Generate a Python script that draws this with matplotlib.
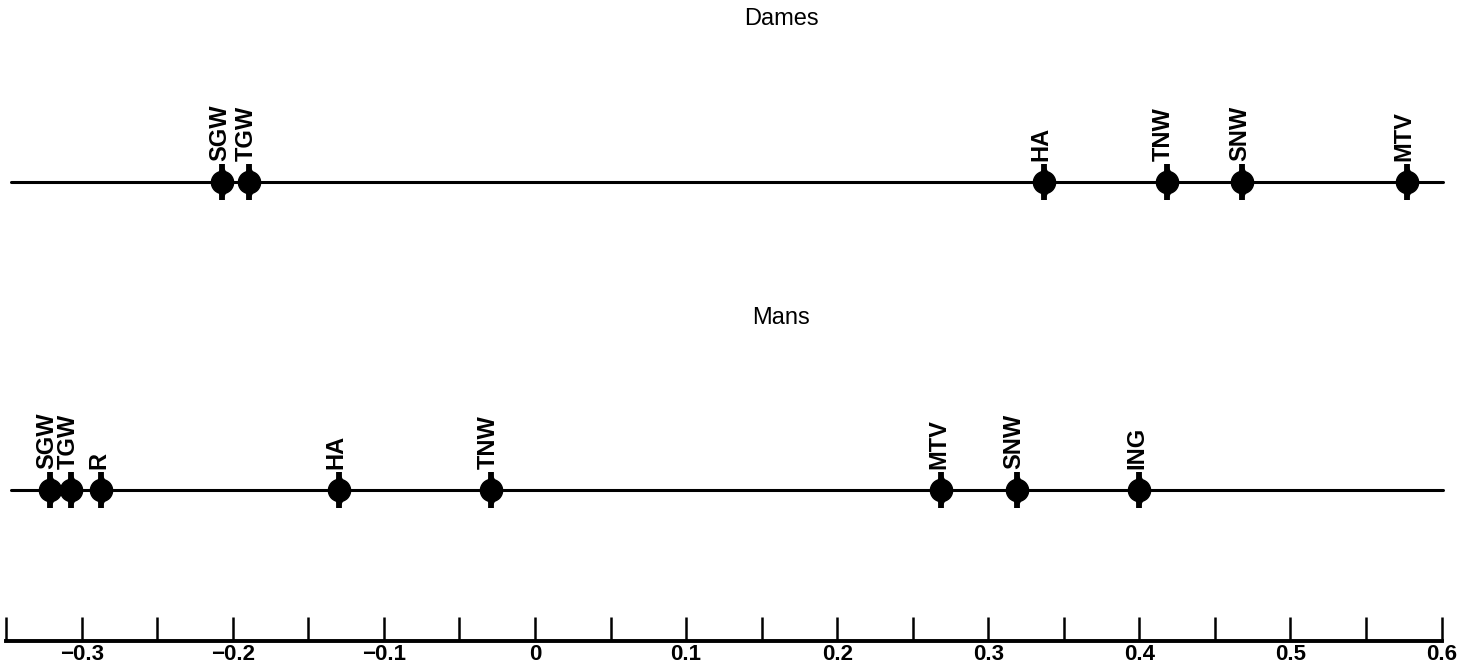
import numpy as np
import matplotlib
matplotlib.use("Agg")
import matplotlib.pyplot as plt

plt.rcParams['font.family'] = ['Liberation Sans', 'DejaVu Sans']

# scale values per group
dames_labels = ['SGW', 'TGW', 'HA', 'TNW', 'SNW', 'MTV']
dames_vals = [-0.207, -0.189, 0.337, 0.418, 0.468, 0.577]

mans_labels = ['SGW', 'TGW', 'R', 'HA', 'TNW', 'MTV', 'SNW', 'ING']
mans_vals = [-0.321, -0.307, -0.287, -0.130, -0.029, 0.269, 0.319, 0.400]

tick_major = [-0.3, -0.2, -0.1, 0, 0.1, 0.2, 0.3, 0.4, 0.5, 0.6]
tick_labels = ['\u22120.3', '\u22120.2', '\u22120.1', '0', '0.1', '0.2', '0.3', '0.4', '0.5', '0.6']
tick_minor = [-0.35, -0.25, -0.15, -0.05, 0.05, 0.15, 0.25, 0.35, 0.45, 0.55]

fig = plt.figure(figsize=(14.69, 6.66), dpi=100)
ax = fig.add_axes([0, 0, 1, 1])
ax.set_xlim(-0.3541, 0.6182)
ax.set_ylim(666, 0)  # vertical layout in pixel-like units, top down

rows = [
    ('Dames', dames_labels, dames_vals, 182, 19),
    ('Mans', mans_labels, mans_vals, 490, 318),
]

for title, labels, vals, y, ty in rows:
    ax.plot([-0.347, 0.601], [y, y], color='black', lw=2.2, solid_capstyle='round', zorder=1)
    ax.plot(vals, [y] * len(vals), ls='none', marker='|', ms=26, mew=4.2, color='black', zorder=2)
    ax.plot(vals, [y] * len(vals), ls='none', marker='d', ms=16, color='black', zorder=2)
    ax.plot(vals, [y] * len(vals), ls='none', marker='o', ms=16, color='black', zorder=3)
    for lab, v in zip(labels, vals):
        ax.annotate(lab, (v, y), xytext=(-2, 15), textcoords='offset points',
                    rotation=90, ha='center', va='bottom',
                    fontsize=17, fontweight='bold')
    ax.text(0.163, ty, title, ha='center', va='center', fontsize=17)

# bottom scale
for s in ['top', 'left', 'right']:
    ax.spines[s].set_visible(False)
ax.spines['bottom'].set_position(('data', 641))
ax.spines['bottom'].set_bounds(-0.35, 0.6)
ax.spines['bottom'].set_linewidth(2.8)
ax.set_xticks(tick_major)
ax.set_xticklabels(tick_labels, fontsize=16, fontweight='bold')
ax.set_xticks(tick_minor, minor=True)
ax.tick_params(axis='x', which='both', direction='in', length=17, width=1.8, pad=2)
ax.set_yticks([])

fig.savefig('out.png', dpi=100)
